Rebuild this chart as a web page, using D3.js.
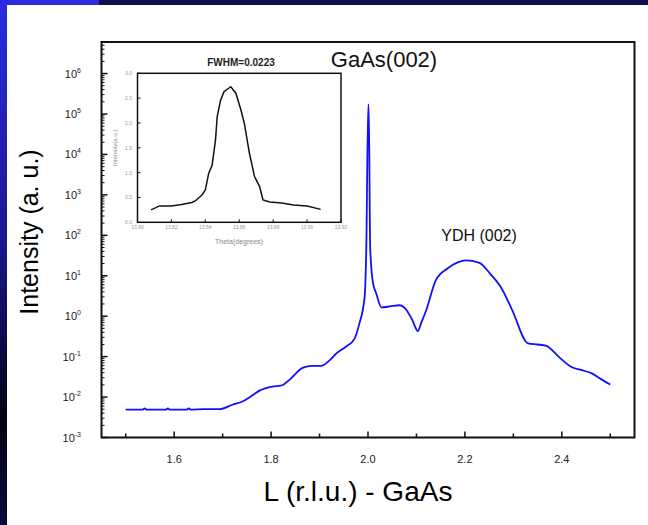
<!DOCTYPE html>
<meta charset="utf-8">
<style>
  body { margin: 0; background: #fff; }
  text { font-family: "Liberation Sans", Arial, sans-serif; }
  .frame { fill: none; stroke: #111; stroke-width: 2px; }
  .scan { fill: none; stroke: #1010ff; stroke-width: 1.8px; stroke-linejoin: round; }
  .rock { fill: none; stroke: #111; stroke-width: 1.5px; }
</style>
<svg width="648" height="525"></svg>
<script src="https://d3js.org/d3.v7.min.js"></script>
<script>

// L scan across GaAs(002) (log intensity)
var scanL = [1.50, 1.52, 1.535, 1.539, 1.543, 1.56, 1.583, 1.587, 1.591, 1.61, 1.626, 1.63, 1.634, 1.66, 1.694,
             1.72, 1.741, 1.76, 1.776, 1.803, 1.82, 1.84, 1.865, 1.885, 1.903, 1.92, 1.934, 1.955, 1.972, 1.982,
             1.993, 1.9965, 2.0005, 2.0015, 2.0045, 2.01, 2.017, 2.028, 2.045, 2.065, 2.079, 2.092, 2.103, 2.11,
             2.12, 2.14, 2.164, 2.185, 2.202, 2.23, 2.252, 2.274, 2.298, 2.33, 2.35, 2.367, 2.395, 2.419, 2.44,
             2.463, 2.48, 2.50];
var scanLogI = [-2.31, -2.31, -2.31, -2.28, -2.31, -2.31, -2.31, -2.28, -2.31, -2.31, -2.31, -2.28, -2.31, -2.30, -2.30,
                -2.19, -2.11, -1.97, -1.84, -1.74, -1.72, -1.55, -1.28, -1.23, -1.23, -1.10, -0.93, -0.75, -0.56, -0.19,
                0.47, 1.70, 5.23, 5.23, 1.70, 0.84, 0.56, 0.22, 0.24, 0.27, 0.16, -0.11, -0.37, -0.16,
                0.14, 0.89, 1.18, 1.33, 1.38, 1.32, 1.05, 0.72, 0.14, -0.67, -0.70, -0.73, -1.02, -1.25, -1.33,
                -1.42, -1.55, -1.69];

// rocking curve inset
var rockTheta = [13.808, 13.813, 13.820, 13.826, 13.832, 13.834, 13.838, 13.840, 13.842, 13.844, 13.846, 13.847,
                 13.849, 13.851, 13.855, 13.858, 13.861, 13.863, 13.866, 13.869, 13.872, 13.874, 13.878, 13.885,
                 13.892, 13.900, 13.908];
var rockI = [0.25, 0.33, 0.33, 0.36, 0.40, 0.43, 0.55, 0.65, 0.99, 1.15, 1.66, 2.13,
             2.46, 2.63, 2.73, 2.60, 2.26, 1.99, 1.39, 0.92, 0.72, 0.45, 0.41, 0.39,
             0.35, 0.33, 0.26];

var xTicks = [1.6, 1.8, 2.0, 2.2, 2.4];
var xMinor = [1.5, 1.7, 1.9, 2.1, 2.3, 2.5];
var yExps = [-3, -2, -1, 0, 1, 2, 3, 4, 5, 6];
var insetXTicks = [13.80, 13.82, 13.84, 13.86, 13.88, 13.90, 13.92];
var insetYTicks = [0.0, 0.5, 1.0, 1.5, 2.0, 2.5, 3.0];

var svg = d3.select("svg");

// slide background bits
var defs = svg.append("defs");
var grad = defs.append("linearGradient").attr("id", "side")
    .attr("x1", 0).attr("y1", 0).attr("x2", 0).attr("y2", 1);
grad.append("stop").attr("offset", "0%").attr("stop-color", "#2b2be2");
grad.append("stop").attr("offset", "45%").attr("stop-color", "#181890");
grad.append("stop").attr("offset", "80%").attr("stop-color", "#020214");
grad.append("stop").attr("offset", "100%").attr("stop-color", "#0b0b3a");
svg.append("rect").attr("x", 0).attr("y", 0).attr("width", 648).attr("height", 5).attr("fill", "#0e0e50");
svg.append("rect").attr("x", 0).attr("y", 0).attr("width", 99).attr("height", 5).attr("fill", "#2b2be2");
svg.append("rect").attr("x", 0).attr("y", 0).attr("width", 7).attr("height", 525).attr("fill", "url(#side)");

var x = d3.scaleLinear().domain([1.45, 2.55]).range([101.5, 634.5]);
var y = d3.scaleLog().domain([1e-3, Math.pow(10, 6.78)]).range([437.5, 42]);

var g = svg.append("g");

// x ticks (inward)
g.selectAll(".xt").data(xTicks).enter().append("line")
    .attr("x1", d => x(d)).attr("x2", d => x(d))
    .attr("y1", y.range()[0]).attr("y2", y.range()[0] - 6)
    .attr("stroke", "#111").attr("stroke-width", 1.5);
g.selectAll(".xm").data(xMinor).enter().append("line")
    .attr("x1", d => x(d)).attr("x2", d => x(d))
    .attr("y1", y.range()[0]).attr("y2", y.range()[0] - 4)
    .attr("stroke", "#111").attr("stroke-width", 1.5);
g.selectAll(".xl").data(xTicks).enter().append("text")
    .attr("x", d => x(d)).attr("y", 463)
    .attr("text-anchor", "middle").attr("font-size", 11).attr("fill", "#222")
    .text(d => d.toFixed(1));

// y ticks (log, inward)
var yMinor = [];
yExps.forEach(function (e) {
  for (var m = 2; m <= 9; m++) {
    var v = m * Math.pow(10, e);
    if (v < y.domain()[1]) yMinor.push(v);
  }
});
g.selectAll(".ym").data(yMinor).enter().append("line")
    .attr("x1", x.range()[0]).attr("x2", x.range()[0] + 3)
    .attr("y1", d => y(d)).attr("y2", d => y(d))
    .attr("stroke", "#111").attr("stroke-width", 1);
g.selectAll(".yt").data(yExps).enter().append("line")
    .attr("x1", x.range()[0]).attr("x2", x.range()[0] + 6)
    .attr("y1", d => y(Math.pow(10, d))).attr("y2", d => y(Math.pow(10, d)))
    .attr("stroke", "#111").attr("stroke-width", 1.5);
var yl = g.selectAll(".yl").data(yExps).enter().append("text")
    .attr("x", 81).attr("y", d => y(Math.pow(10, d)) + 4)
    .attr("text-anchor", "end").attr("font-size", 11).attr("fill", "#222");
yl.append("tspan").text("10");
yl.append("tspan").attr("dy", -5).attr("font-size", 7).text(d => d);

// frame
g.append("rect").attr("class", "frame")
    .attr("x", x.range()[0]).attr("y", y.range()[1])
    .attr("width", x.range()[1] - x.range()[0]).attr("height", y.range()[0] - y.range()[1]);

// scan line
var line = d3.line()
    .x(function (d, i) { return x(scanL[i]); })
    .y(function (d) { return y(Math.pow(10, d)); })
    .curve(d3.curveMonotoneX);
g.append("path").attr("class", "scan").datum(scanLogI).attr("d", line);

// annotations
g.append("text").attr("x", 384).attr("y", 67).attr("text-anchor", "middle")
    .attr("font-size", 22).attr("fill", "#111").text("GaAs(002)");
g.append("text").attr("x", 479).attr("y", 241).attr("text-anchor", "middle")
    .attr("font-size", 16).attr("fill", "#111").text("YDH (002)");

// axis titles
svg.append("text").attr("x", 358).attr("y", 501).attr("text-anchor", "middle")
    .attr("font-size", 28).attr("fill", "#000").text("L (r.l.u.) - GaAs");
svg.append("text").attr("transform", "translate(38,232) rotate(-90)").attr("text-anchor", "middle")
    .attr("font-size", 25).attr("fill", "#000").text("Intensity (a. u.)");

// inset
var ix = d3.scaleLinear().domain([13.80, 13.92]).range([137.5, 341]);
var iy = d3.scaleLinear().domain([0, 3.0]).range([222.3, 73.3]);
var ins = svg.append("g");
ins.append("rect").attr("x", ix.range()[0]).attr("y", iy.range()[1])
    .attr("width", ix.range()[1] - ix.range()[0]).attr("height", iy.range()[0] - iy.range()[1])
    .attr("fill", "#fff").attr("stroke", "#111").attr("stroke-width", 1.5);
ins.selectAll(".ixt").data(insetXTicks).enter().append("line")
    .attr("x1", d => ix(d)).attr("x2", d => ix(d))
    .attr("y1", iy.range()[0]).attr("y2", iy.range()[0] - 3)
    .attr("stroke", "#111");
ins.selectAll(".iyt").data(insetYTicks).enter().append("line")
    .attr("x1", ix.range()[0]).attr("x2", ix.range()[0] + 3)
    .attr("y1", d => iy(d)).attr("y2", d => iy(d))
    .attr("stroke", "#111");
ins.selectAll(".ixl").data(insetXTicks).enter().append("text")
    .attr("x", d => ix(d)).attr("y", 229)
    .attr("text-anchor", "middle").attr("font-size", 5).attr("fill", "#999")
    .text(d => d.toFixed(2));
ins.selectAll(".iyl").data(insetYTicks).enter().append("text")
    .attr("x", 132).attr("y", d => iy(d) + 2)
    .attr("text-anchor", "end").attr("font-size", 5).attr("fill", "#999")
    .text(d => d.toFixed(1));
ins.append("text").attr("x", 239).attr("y", 244).attr("text-anchor", "middle")
    .attr("font-size", 7).attr("fill", "#888").text("Theta(degrees)");
ins.append("text").attr("transform", "translate(117,148) rotate(-90)").attr("text-anchor", "middle")
    .attr("font-size", 6).attr("fill", "#888").text("Intensity(a.u.)");
ins.append("text").attr("x", 241).attr("y", 66).attr("text-anchor", "middle")
    .attr("font-size", 10).attr("font-weight", "bold").attr("fill", "#222").text("FWHM=0.0223");

var rline = d3.line()
    .x(function (d, i) { return ix(rockTheta[i]); })
    .y(function (d) { return iy(d); });
ins.append("path").attr("class", "rock").datum(rockI).attr("d", rline);

</script>
